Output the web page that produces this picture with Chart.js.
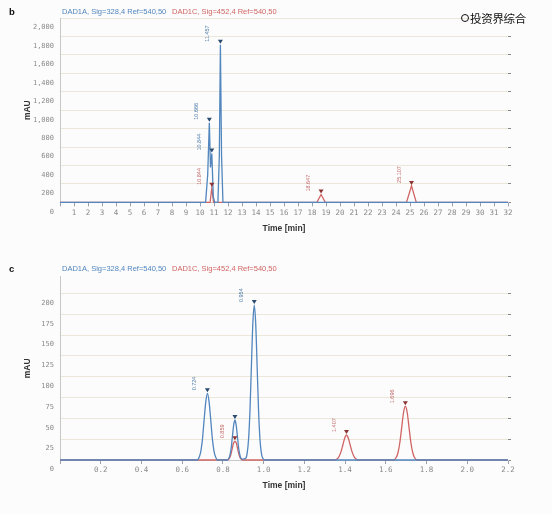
<!DOCTYPE html>
<html>
<head>
<meta charset="utf-8">
<script src="https://cdn.jsdelivr.net/npm/chart.js@4.4.1/dist/chart.umd.min.js"></script>
<style>
  body { margin: 0; background: #fcfcfc; width: 552px; height: 514px; position: relative; overflow: hidden; }
  .panel { position: absolute; left: 0; width: 552px; }
  #wrapB { top: 0; height: 240px; }
  #wrapC { top: 250px; height: 250px; }
  #wm { position: absolute; left: 461px; top: 10px; font: 11.5px "Noto Sans CJK SC"; color: #111;
        text-shadow: 0 0 1px #fff, 0 0 1px #fff; letter-spacing: -0.3px; }
  #wm span { display: inline-block; width: 6px; height: 6px; border: 1.5px solid #111; border-radius: 50%; margin-right: 1px; vertical-align: 1px; }
</style>
</head>
<body>
<div class="panel" id="wrapB"><canvas id="chartB" width="552" height="240"></canvas></div>
<div class="panel" id="wrapC"><canvas id="chartC" width="552" height="250"></canvas></div>
<div id="wm"><span></span>投资界综合</div>
<script>
const BLUE = '#5286be';
const RED = '#d06464';
const legendA = 'DAD1A, Sig=328,4 Ref=540,50';
const legendC = 'DAD1C, Sig=452,4 Ref=540,50';

// panel b: time [min] / signal [mAU]
const bTimeA = [0, 10.40, 10.55, 10.666, 10.75, 10.844, 10.95, 11.05, 11.28, 11.38, 11.457, 11.54, 11.64, 32];
const bSigA  = [0, 0, 300, 864, 380, 530, 60, 0, 0, 500, 1710, 500, 0, 0];
const bTimeC = [0, 10.72, 10.844, 10.97, 18.35, 18.647, 18.95, 24.75, 25.107, 25.45, 32];
const bSigC  = [0, 0, 158, 0, 0, 85, 0, 0, 179, 0, 0];
const bPeakTimeA = [10.666, 10.844, 11.457];
const bPeakHeightA = [864, 530, 1710];
const bPeakLabelA = ['10.666', '10.844', '11.457'];
const bPeakTimeC = [10.844, 18.647, 25.107];
const bPeakHeightC = [158, 85, 179];
const bPeakLabelC = ['10.844', '18.647', '25.107'];

// panel c
const cTimeA = [0, 0.674, 0.684, 0.692, 0.700, 0.708, 0.716, 0.724, 0.732, 0.740, 0.748, 0.756, 0.764, 0.774,
  0.821, 0.829, 0.835, 0.841, 0.847, 0.853, 0.859, 0.865, 0.871, 0.877, 0.883, 0.889, 0.897,
  0.912, 0.919, 0.926, 0.933, 0.940, 0.947, 0.954, 0.961, 0.968, 0.975, 0.982, 0.989, 0.996, 1.006, 2.2];
const cSigA = [0, 0, 3.5, 11, 26, 49, 70, 80, 70, 49, 26, 11, 3.5, 0,
  0, 2, 6.5, 15, 29, 42, 48, 42, 29, 15, 6.5, 2, 1,
  2, 8, 25, 60, 113, 164, 186, 164, 113, 60, 25, 8, 2, 0, 0];
const cTimeC = [0, 0.820, 0.828, 0.834, 0.840, 0.846, 0.852, 0.859, 0.866, 0.872, 0.878, 0.884, 0.890, 0.898,
  1.350, 1.362, 1.371, 1.380, 1.389, 1.398, 1.407, 1.416, 1.425, 1.434, 1.443, 1.452, 1.464,
  1.639, 1.651, 1.660, 1.669, 1.678, 1.687, 1.696, 1.705, 1.714, 1.723, 1.732, 1.741, 1.753, 2.2];
const cSigC = [0, 0, 1, 3, 7.5, 14, 20, 22.5, 20, 14, 7.5, 3, 1, 0,
  0, 1.5, 4.5, 10, 18, 26, 30, 26, 18, 10, 4.5, 1.5, 0,
  0, 3, 9, 21, 39, 57, 64.5, 57, 39, 21, 9, 3, 0, 0];
const cPeakTimeA = [0.724, 0.859, 0.954];
const cPeakHeightA = [80, 48, 186];
const cPeakLabelA = ['0.724', '', '0.954'];
const cPeakTimeC = [0.859, 1.407, 1.696];
const cPeakHeightC = [22.5, 30, 64.5];
const cPeakLabelC = ['0.859', '1.407', '1.696'];

const toPts = (ts, vs) => ts.map((t, i) => ({x: t, y: vs[i]}));

const peakPlugin = {
  id: 'peaks',
  afterDatasetsDraw(chart, args, opts) {
    const {ctx} = chart;
    const x = chart.scales.x, y = chart.scales.y;
    opts.groups.forEach(g => {
      g.times.forEach((t, i) => {
        const px = x.getPixelForValue(t);
        const py = y.getPixelForValue(g.heights[i]) - 1;
        ctx.save();
        ctx.fillStyle = g.marker;
        ctx.beginPath();
        ctx.moveTo(px - 2.5, py - 4);
        ctx.lineTo(px + 2.5, py - 4);
        ctx.lineTo(px, py);
        ctx.closePath();
        ctx.fill();
        if (g.labels[i]) {
          ctx.translate(px - 12.5, py - 2);
          ctx.rotate(-Math.PI / 2);
          ctx.font = '5.5px "Liberation Sans"';
          ctx.fillStyle = g.text;
          ctx.textAlign = 'left';
          ctx.textBaseline = 'middle';
          ctx.fillText(g.labels[i], 0, 0);
        }
        ctx.restore();
      });
    });
  },
  afterDraw(chart, args, opts) {
    const {ctx} = chart;
    ctx.save();
    ctx.textBaseline = 'middle';
    ctx.font = 'bold 9.5px "Liberation Sans"';
    ctx.fillStyle = '#111';
    ctx.fillText(opts.letter, 9, opts.legendY);
    ctx.font = '7.5px "Liberation Sans"';
    chart.data.datasets.forEach((ds, i) => {
      ctx.fillStyle = ds.borderColor;
      ctx.fillText(ds.label, i === 0 ? 62 : 172, opts.legendY);
    });
    ctx.restore();
  }
};

function makeChart(id, cfg) {
  return new Chart(document.getElementById(id), {
    type: 'line',
    data: {
      datasets: [
        {label: legendA, data: cfg.dataA, borderColor: BLUE, borderWidth: 1.3, pointRadius: 0,
         cubicInterpolationMode: cfg.smooth ? 'monotone' : 'default', tension: 0, clip: false},
        {label: legendC, data: cfg.dataC, borderColor: RED, borderWidth: 1.3, pointRadius: 0,
         cubicInterpolationMode: cfg.smooth ? 'monotone' : 'default', tension: 0, clip: false}
      ]
    },
    options: {
      responsive: false,
      animation: false,
      layout: {padding: {left: 19, right: 0, top: cfg.padTop, bottom: cfg.padBottom}},
      plugins: {
        legend: {display: false},
        tooltip: {enabled: false},
        peaks: {groups: cfg.groups, letter: cfg.letter, legendY: cfg.legendY}
      },
      scales: {
        x: {
          type: 'linear', min: 0, max: cfg.xMax,
          afterFit(s) { s.height = cfg.xHeight; },
          ticks: {stepSize: cfg.xStep, includeBounds: false, autoSkip: false, maxRotation: 0, padding: 2,
                  color: '#8a8a8a', font: {family: 'DejaVu Sans Mono', size: 7.5},
                  callback: v => v === 0 ? '' : cfg.xFmt(v)},
          grid: {drawOnChartArea: false, tickLength: 4, color: '#9aa3ad'},
          border: {color: '#c8c8c8'},
          title: {display: true, text: 'Time [min]', color: '#333',
                  font: {family: 'Liberation Sans', size: 8.5, weight: 'bold'}}
        },
        y: {
          min: 0, max: cfg.yMax,
          afterFit(s) { s.width = 41; },
          ticks: {stepSize: cfg.yStep, includeBounds: false, padding: 6, labelOffset: 9.5,
                  color: '#8a8a8a', font: {family: 'DejaVu Sans Mono', size: 7}},
          grid: {color: '#ebe7da', drawTicks: false},
          border: {color: '#c8c8c8'},
          title: {display: true, text: 'mAU', color: '#333',
                  font: {family: 'Liberation Sans', size: 8.5, weight: 'bold'}}
        },
        y2: {
          position: 'right', min: 0, max: cfg.yMax,
          afterFit(s) { s.width = 44; },
          ticks: {stepSize: cfg.yStep, includeBounds: false, display: false},
          grid: {drawOnChartArea: false, tickLength: 3, color: '#888'},
          border: {display: false}
        }
      }
    },
    plugins: [peakPlugin]
  });
}

makeChart('chartB', {
  dataA: toPts(bTimeA, bSigA), dataC: toPts(bTimeC, bSigC), smooth: false,
  xMax: 32, xStep: 1, xFmt: v => String(v), yMax: 2000, yStep: 200,
  padTop: 18, padBottom: 2.6, xHeight: 35, letter: 'b', legendY: 12,
  groups: [
    {times: bPeakTimeC, heights: bPeakHeightC, labels: bPeakLabelC, marker: '#8c3434', text: '#c46a6a'},
    {times: bPeakTimeA, heights: bPeakHeightA, labels: bPeakLabelA, marker: '#2c4b70', text: '#4d7aa8'}
  ]
});

makeChart('chartC', {
  dataA: toPts(cTimeA, cSigA), dataC: toPts(cTimeC, cSigC), smooth: true,
  xMax: 2.2, xStep: 0.2, xFmt: v => v.toFixed(1), yMax: 220, yStep: 25,
  padTop: 26.7, padBottom: 5.6, xHeight: 34.4, letter: 'c', legendY: 19,
  groups: [
    {times: cPeakTimeC, heights: cPeakHeightC, labels: cPeakLabelC, marker: '#8c3434', text: '#c46a6a'},
    {times: cPeakTimeA, heights: cPeakHeightA, labels: cPeakLabelA, marker: '#2c4b70', text: '#4d7aa8'}
  ]
});
</script>
</body>
</html>
